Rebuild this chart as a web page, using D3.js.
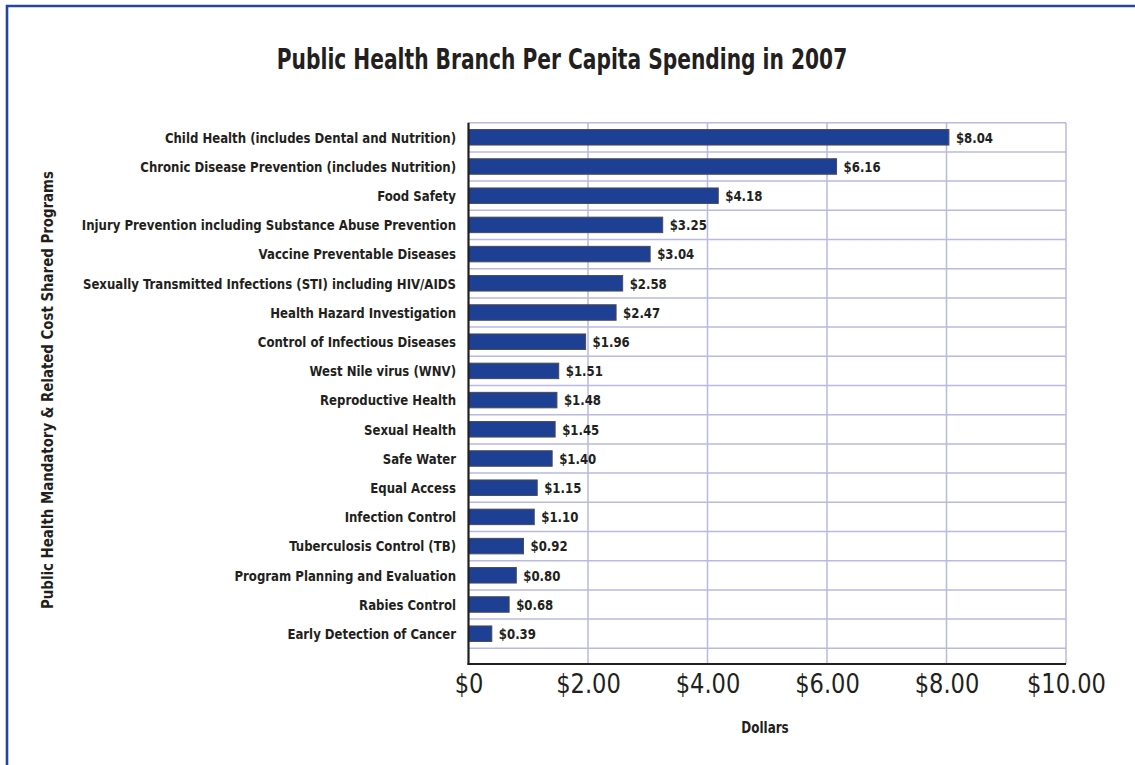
<!DOCTYPE html>
<html>
<head>
<meta charset="utf-8">
<script src="https://cdn.jsdelivr.net/npm/d3@7"></script>
<style>
  html, body { margin: 0; padding: 0; background: #ffffff; }
  svg { display: block; }
  .cond { font-family: "DejaVu Sans Condensed", "Liberation Sans Narrow", sans-serif; font-stretch: condensed; }
</style>
</head>
<body>
<svg id="chart" width="1135" height="765"></svg>
<script>
// Per capita spending by program, 2007 (dollars)
const programs = [
  "Child Health (includes Dental and Nutrition)",
  "Chronic Disease Prevention (includes Nutrition)",
  "Food Safety",
  "Injury Prevention including Substance Abuse Prevention",
  "Vaccine Preventable Diseases",
  "Sexually Transmitted Infections (STI) including HIV/AIDS",
  "Health Hazard Investigation",
  "Control of Infectious Diseases",
  "West Nile virus (WNV)",
  "Reproductive Health",
  "Sexual Health",
  "Safe Water",
  "Equal Access",
  "Infection Control",
  "Tuberculosis Control (TB)",
  "Program Planning and Evaluation",
  "Rabies Control",
  "Early Detection of Cancer"
];
const spending = [8.04, 6.16, 4.18, 3.25, 3.04, 2.58, 2.47, 1.96, 1.51, 1.48, 1.45, 1.40, 1.15, 1.10, 0.92, 0.80, 0.68, 0.39];
const tickValues = [0, 2, 4, 6, 8, 10];
const tickLabels = ["$0", "$2.00", "$4.00", "$6.00", "$8.00", "$10.00"];

const titleText = "Public Health Branch Per Capita Spending in 2007";
const xTitle = "Dollars";
const yTitle = "Public Health Mandatory & Related Cost Shared Programs";

const svg = d3.select("#chart");

// Narrow a text element horizontally around its anchor point
function squeeze(sel, sx, rotate) {
  sel.each(function () {
    const t = d3.select(this);
    const px = +t.attr("x") || 0, py = +t.attr("y") || 0;
    t.attr("x", 0).attr("y", 0)
     .attr("transform", `translate(${px},${py})` + (rotate ? ` rotate(${rotate})` : "") + ` scale(${sx},1)`);
  });
}

// frame
const plotLeft = 468.5, plotRight = 1066, plotTop = 122.7, rowsBottom = 648.3, plotBottom = 664;

const x = d3.scaleLinear().domain([0, 10]).range([plotLeft, plotRight]);
const rows = d3.scaleBand().domain(programs).range([plotTop, rowsBottom]).padding(0);
const y = d3.scaleBand().domain(programs).range([plotTop, rowsBottom])
  .paddingInner(0.47).paddingOuter(0.235);

// outer border (top and left edges)
svg.append("path")
  .attr("d", `M7,765 L7,6 L1135,6`)
  .attr("fill", "none")
  .attr("stroke", "#2446a0")
  .attr("stroke-width", 2.6);

// title
svg.append("text").attr("class", "cond")
  .attr("x", 562).attr("y", 69)
  .attr("text-anchor", "middle")
  .attr("font-size", 29).attr("font-weight", "bold")
  .attr("fill", "#231f20")
  .text(titleText)
  .call(squeeze, 0.775);

const grid = "#b9b9e2";

// horizontal row gridlines
const rowEdges = programs.map(p => rows(p)).concat([rowsBottom]);
svg.append("g").selectAll("line").data(rowEdges).join("line")
  .attr("x1", plotLeft).attr("x2", plotRight)
  .attr("y1", d => d).attr("y2", d => d)
  .attr("stroke", grid).attr("stroke-width", 1.5);

// vertical gridlines
svg.append("g").selectAll("line").data(tickValues.slice(1)).join("line")
  .attr("x1", d => x(d)).attr("x2", d => x(d))
  .attr("y1", plotTop).attr("y2", plotBottom)
  .attr("stroke", grid).attr("stroke-width", 1.5);

// bars
svg.append("g").selectAll("rect").data(programs).join("rect")
  .attr("x", x(0))
  .attr("y", d => y(d))
  .attr("width", (d, i) => x(spending[i]) - x(0))
  .attr("height", y.bandwidth())
  .attr("fill", "#1d3f94")
  .attr("stroke", "#4a4a55")
  .attr("stroke-width", 1);

// value labels
svg.append("g").selectAll("text").data(programs).join("text")
  .attr("class", "cond")
  .attr("x", (d, i) => x(spending[i]) + 7)
  .attr("y", d => y(d) + y.bandwidth() / 2)
  .attr("dy", "0.36em")
  .attr("font-size", 14.5).attr("font-weight", "bold")
  .attr("fill", "#231f20")
  .text((d, i) => "$" + spending[i].toFixed(2))
  .call(squeeze, 0.9);

// category labels
svg.append("g").selectAll("text").data(programs).join("text")
  .attr("class", "cond")
  .attr("x", 456)
  .attr("y", d => y(d) + y.bandwidth() / 2)
  .attr("dy", "0.36em")
  .attr("text-anchor", "end")
  .attr("font-size", 14.5).attr("font-weight", "bold")
  .attr("fill", "#231f20")
  .text(d => d)
  .call(squeeze, 0.9);

// axes lines
svg.append("line")
  .attr("x1", plotLeft).attr("x2", plotLeft)
  .attr("y1", plotTop).attr("y2", plotBottom + 1)
  .attr("stroke", "#231f20").attr("stroke-width", 2.2);
svg.append("line")
  .attr("x1", plotLeft - 1).attr("x2", plotRight)
  .attr("y1", plotBottom).attr("y2", plotBottom)
  .attr("stroke", "#231f20").attr("stroke-width", 2.2);

// x tick labels
const xAxis = d3.axisBottom(x).tickValues(tickValues)
  .tickFormat((d, i) => tickLabels[i]).tickSize(0).tickPadding(0);
const gx = svg.append("g").attr("transform", `translate(0,${plotBottom})`).call(xAxis);
gx.select(".domain").remove();
gx.selectAll("text")
  .attr("class", "cond")
  .attr("x", 0).attr("y", 29).attr("dy", 0)
  .attr("font-size", 27)
  .attr("font-family", null)
  .attr("fill", "#231f20")
  .call(squeeze, 0.93);
gx.attr("font-family", null).attr("font-size", null);

// x title
svg.append("text").attr("class", "cond")
  .attr("x", 765).attr("y", 733)
  .attr("text-anchor", "middle")
  .attr("font-size", 15.5).attr("font-weight", "bold")
  .attr("fill", "#231f20")
  .text(xTitle)
  .call(squeeze, 0.86);

// y title
svg.append("text").attr("class", "cond")
  .attr("x", 53).attr("y", 390)
  .attr("text-anchor", "middle")
  .attr("font-size", 15).attr("font-weight", "bold")
  .attr("fill", "#231f20")
  .text(yTitle)
  .call(squeeze, 0.99, -90);
</script>
</body>
</html>
